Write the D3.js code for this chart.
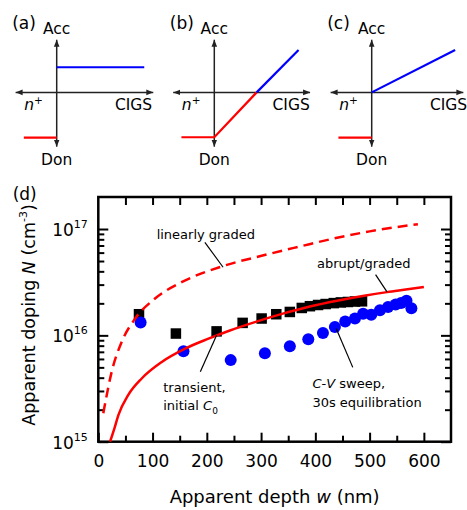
<!DOCTYPE html>
<html><head><meta charset="utf-8">
<script src="https://cdn.jsdelivr.net/npm/d3@7"></script>
<style>
body{margin:0;background:#fff}
svg{display:block;font-family:"DejaVu Sans",Verdana,sans-serif}
</style></head><body>
<svg id="chart" width="467" height="510"></svg>
<script>
// ---- schematic doping profiles (arbitrary units, junction at x = 0) ----
const panelLabels = ["(a)", "(b)", "(c)"];
const nSideA = [[-0.8, -1.1], [0, -1.1]];
const pSideA = [[0, 0.61], [2.13, 0.61]];
const nSideB = [[-0.8, -1.09], [0, -1.09], [1.03, 0]];
const pSideB = [[1.03, 0], [2.05, 1.03]];
const nSideC = [[-0.81, -1.1], [0, -1.1]];
const pSideC = [[0, 0], [2.03, 1.03]];

// ---- apparent doping vs apparent depth ----
// transient capacitance, initial C0
const transientDepth  = [75, 143, 218, 266, 301, 328, 353, 375, 390, 405, 419, 434, 447, 460, 473, 486];
const transientDoping = [1.58e16, 1.04e16, 1.09e16, 1.31e16, 1.44e16, 1.58e16, 1.66e16, 1.81e16,
                         1.88e16, 1.93e16, 1.97e16, 2.01e16, 2.04e16, 2.06e16, 2.08e16, 2.09e16];
// C-V sweep, 30 s equilibration
const sweepDepth  = [78, 157, 244, 307, 353, 387, 414, 436, 455, 473, 488, 503, 519, 534, 548, 558, 568, 577];
const sweepDoping = [1.32e16, 7.1e15, 5.85e15, 6.8e15, 7.9e15, 9.2e15, 1.05e16, 1.2e16, 1.35e16,
                     1.44e16, 1.6e16, 1.56e16, 1.72e16, 1.85e16, 1.95e16, 2.02e16, 2.12e16, 1.8e16];
// model: abrupt / graded junction
const abruptDepth  = [21.7, 30, 37, 55, 80, 117, 160, 203, 240, 290, 340, 390, 440, 490, 532, 570, 600];
const abruptDoping = [1.0e15, 1.35e15, 1.78e15, 2.74e15, 3.93e15, 5.62e15, 7.5e15, 9.3e15, 1.1e16,
                      1.34e16, 1.6e16, 1.87e16, 2.12e16, 2.36e16, 2.55e16, 2.71e16, 2.85e16];
// model: linearly graded junction
const linearDepth  = [9.2, 15.5, 24.6, 43, 67.6, 104, 153.5, 227, 301, 375, 427, 500, 589];
const linearDoping = [1.85e15, 2.74e15, 4.53e15, 8.65e15, 1.43e16, 2.21e16, 3.16e16, 4.44e16,
                      5.6e16, 6.92e16, 8.0e16, 9.5e16, 1.11e17];

const depthTicks  = [0, 100, 200, 300, 400, 500, 600];
const dopingTicks = [1e15, 1e16, 1e17];

const RED = "#ff0000", BLUE = "#0000ff", AXIS = "#222";
const svg = d3.select("#chart");

// ===== schematic panels (a)-(c) =====
const defs = svg.append("defs");
defs.append("marker").attr("id", "arrow")
  .attr("viewBox", "0 0 10 10").attr("refX", 10).attr("refY", 5)
  .attr("markerWidth", 7).attr("markerHeight", 7)
  .attr("markerUnits", "userSpaceOnUse").attr("orient", "auto-start-reverse")
  .append("path").attr("d", "M0,1 L10,5 L0,9 Z").attr("fill", AXIS);

const panels = [
  {label: panelLabels[0], vx: 56.7,  xmax: 2.35, n: nSideA, p: pSideA},
  {label: panelLabels[1], vx: 214.3, xmax: 2.33, n: nSideB, p: pSideB},
  {label: panelLabels[2], vx: 371.7, xmax: 2.23, n: nSideC, p: pSideC}
];
const unit = 41.1;
panels.forEach(pn => {
  const sx = d3.scaleLinear().domain([0, 1]).range([pn.vx, pn.vx + unit]);
  const sy = d3.scaleLinear().domain([-1.32, 1.28]).range([146.7, 39.7]);
  const g = svg.append("g");
  // axes with arrowheads
  g.append("line").attr("x1", sx(-1)).attr("x2", sx(pn.xmax)).attr("y1", sy(0)).attr("y2", sy(0))
    .attr("stroke", AXIS).attr("stroke-width", 1.5)
    .attr("marker-start", "url(#arrow)").attr("marker-end", "url(#arrow)");
  g.append("line").attr("x1", sx(0)).attr("x2", sx(0)).attr("y1", sy(-1.32)).attr("y2", sy(1.28))
    .attr("stroke", AXIS).attr("stroke-width", 1.5)
    .attr("marker-start", "url(#arrow)").attr("marker-end", "url(#arrow)");
  const ln = d3.line().x(d => sx(d[0])).y(d => sy(d[1]));
  g.append("path").attr("d", ln(pn.n)).attr("fill", "none").attr("stroke", RED).attr("stroke-width", 2.2);
  g.append("path").attr("d", ln(pn.p)).attr("fill", "none").attr("stroke", BLUE).attr("stroke-width", 2.2);
  // labels
  g.append("text").attr("x", pn.vx - 44.5).attr("y", 29).attr("font-size", 17).text(pn.label);
  g.append("text").attr("x", pn.vx).attr("y", 33.5).attr("text-anchor", "middle").attr("font-size", 15.5).text("Acc");
  g.append("text").attr("x", pn.vx).attr("y", 165).attr("text-anchor", "middle").attr("font-size", 15.5).text("Don");
  g.append("text").attr("x", pn.vx + 95.5).attr("y", 110).attr("text-anchor", "end").attr("font-size", 15.5).text("CIGS");
  const nt = g.append("text").attr("x", pn.vx - 32.5).attr("y", 110).attr("font-size", 15.5);
  nt.append("tspan").attr("font-style", "italic").text("n");
  nt.append("tspan").attr("font-size", 10.5).attr("dy", -6).text("+");
});

// ===== panel (d) =====
const plot = {left: 98.3, right: 451, top: 197, bottom: 441.7};
const x = d3.scaleLinear().domain([0, 650]).range([plot.left, plot.right]);
const y = d3.scaleLog().domain([1e15, 2e17]).range([plot.bottom, plot.top]);

const minorDepth = d3.range(50, 650, 100);
const topDepth = d3.range(50, 650, 50);
const minorDoping = [];
[1e15, 1e16].forEach(dec => { for (let m = 2; m <= 9; m++) minorDoping.push(m * dec); });

function styleAxis(g, width) {
  g.select(".domain").remove();
  g.selectAll(".tick line").attr("stroke", "#000").attr("stroke-width", width);
  g.attr("font-family", null).attr("font-size", null);
}

// bottom
svg.append("g").attr("transform", `translate(0,${plot.bottom})`)
  .call(d3.axisBottom(x).tickValues(depthTicks).tickSizeInner(-9).tickSizeOuter(0).tickPadding(13).tickFormat(d3.format("d")))
  .call(g => styleAxis(g, 2))
  .call(g => g.selectAll(".tick text").attr("font-size", 17).attr("fill", "#000"));
svg.append("g").attr("transform", `translate(0,${plot.bottom})`)
  .call(d3.axisBottom(x).tickValues(minorDepth).tickSize(-6).tickFormat(""))
  .call(g => styleAxis(g, 2));
// top
svg.append("g").attr("transform", `translate(0,${plot.top})`)
  .call(d3.axisTop(x).tickValues(topDepth).tickSize(-8).tickFormat(""))
  .call(g => styleAxis(g, 2));
// left / right
[[d3.axisLeft, plot.left], [d3.axisRight, plot.right]].forEach(([ax, pos]) => {
  svg.append("g").attr("transform", `translate(${pos},0)`)
    .call(ax(y).tickValues(dopingTicks).tickSize(-10).tickFormat(""))
    .call(g => styleAxis(g, 2));
  svg.append("g").attr("transform", `translate(${pos},0)`)
    .call(ax(y).tickValues(minorDoping).tickSize(-6).tickFormat(""))
    .call(g => styleAxis(g, 2));
});
// decade labels 10^n
dopingTicks.forEach(v => {
  const t = svg.append("text").attr("x", plot.left - 10.5).attr("y", y(v) + 7)
    .attr("text-anchor", "end").attr("font-size", 17);
  t.append("tspan").text("10");
  t.append("tspan").attr("font-size", 11).attr("dy", -8).text(Math.round(Math.log10(v)));
});

// frame
svg.append("rect").attr("x", plot.left).attr("y", plot.top)
  .attr("width", plot.right - plot.left).attr("height", plot.bottom - plot.top)
  .attr("fill", "none").attr("stroke", "#000").attr("stroke-width", 2.5);

// data markers
const sq = 10.5;
svg.append("g").selectAll("rect").data(d3.zip(transientDepth, transientDoping)).join("rect")
  .attr("x", d => x(d[0]) - sq / 2).attr("y", d => y(d[1]) - sq / 2)
  .attr("width", sq).attr("height", sq).attr("fill", "#000");
svg.append("g").selectAll("circle").data(d3.zip(sweepDepth, sweepDoping)).join("circle")
  .attr("cx", d => x(d[0])).attr("cy", d => y(d[1])).attr("r", 6).attr("fill", BLUE);

// model curves
const curve = d3.line().x(d => x(d[0])).y(d => y(d[1])).curve(d3.curveMonotoneX);
svg.append("path").attr("d", curve(d3.zip(linearDepth, linearDoping)))
  .attr("fill", "none").attr("stroke", RED).attr("stroke-width", 2.5).attr("stroke-dasharray", "10,6");
svg.append("path").attr("d", curve(d3.zip(abruptDepth, abruptDoping)))
  .attr("fill", "none").attr("stroke", RED).attr("stroke-width", 2.5);

// annotations (anchored in data units)
const noteSize = 13;
function leader(a, b) {
  svg.append("line").attr("x1", x(a[0])).attr("y1", y(a[1])).attr("x2", x(b[0])).attr("y2", y(b[1]))
    .attr("stroke", "#000").attr("stroke-width", 1.2);
}
svg.append("text").attr("x", x(107.5)).attr("y", y(8.06e16)).attr("font-size", noteSize).text("linearly graded");
leader([196.4, 7.49e16], [230, 4.37e16]);

svg.append("text").attr("x", x(403)).attr("y", y(4.31e16)).attr("font-size", noteSize).text("abrupt/graded");
leader([511, 3.73e16], [532, 2.56e16]);

svg.append("text").attr("x", x(119.6)).attr("y", y(2.95e15)).attr("font-size", noteSize).text("transient,");
const ic = svg.append("text").attr("x", x(119.6)).attr("y", y(1.98e15)).attr("font-size", noteSize);
ic.append("tspan").text("initial ");
ic.append("tspan").attr("font-style", "italic").text("C");
ic.append("tspan").attr("font-size", 9).attr("dy", 4).text("0");
leader([188, 4.55e15], [218, 1.0e16]);

const cv = svg.append("text").attr("x", x(394.6)).attr("y", y(3.17e15)).attr("font-size", noteSize);
cv.append("tspan").attr("font-style", "italic").text("C");
cv.append("tspan").text("-");
cv.append("tspan").attr("font-style", "italic").text("V");
cv.append("tspan").text(" sweep,");
svg.append("text").attr("x", x(394.6)).attr("y", y(2.13e15)).attr("font-size", noteSize).text("30s equilibration");
leader([438.4, 1.16e16], [469, 5.0e15]);

// panel label and axis titles
svg.append("text").attr("x", 12.7).attr("y", 200).attr("font-size", 17).text("(d)");
const xt = svg.append("text").attr("x", (plot.left + plot.right) / 2).attr("y", 503)
  .attr("text-anchor", "middle").attr("font-size", 18);
xt.append("tspan").text("Apparent depth ");
xt.append("tspan").attr("font-style", "italic").text("w");
xt.append("tspan").text(" (nm)");
const yt = svg.append("text").attr("transform", "translate(35,315) rotate(-90)")
  .attr("text-anchor", "middle").attr("font-size", 17.5);
yt.append("tspan").text("Apparent doping ");
yt.append("tspan").attr("font-style", "italic").text("N");
yt.append("tspan").text(" (cm");
yt.append("tspan").attr("font-size", 11).attr("dy", -8).text("-3");
yt.append("tspan").attr("dy", 8).text(")");
</script>
</body></html>
